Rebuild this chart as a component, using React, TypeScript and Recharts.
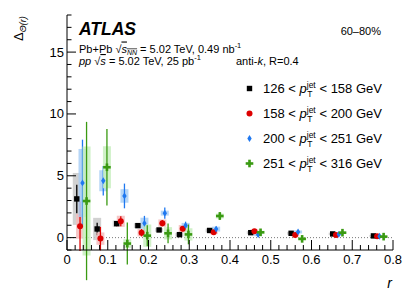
import React from 'react';
import { ScatterChart, Scatter, XAxis, YAxis, ErrorBar, ReferenceLine } from 'recharts';

// ---------- data ----------
const X_MAJOR = [0, 0.1, 0.2, 0.3, 0.4, 0.5, 0.6, 0.7, 0.8];
const X_LABELS = ['0', '0.1', '0.2', '0.3', '0.4', '0.5', '0.6', '0.7', '0.8'];
const Y_MAJOR = [0, 5, 10, 15];
const Y_LABELS = ['0', '5', '10', '15'];
const X_DOMAIN = [0, 0.8];
const Y_DOMAIN = [-1, 18];

const SERIES_NAMES = ['126', '158', '200', '251'];
const SERIES_HIGH = ['158', '200', '251', '316'];

const r126 = [0.024, 0.074, 0.122, 0.174, 0.226, 0.276, 0.35, 0.451, 0.55, 0.652, 0.752];
const v126 = [3.13, 0.7, 1.13, 0.97, 0.62, 0.24, 0.58, 0.4, 0.35, 0.3, 0.14];
const stat126 = [1.15, 0.5, 0.2, 0.15, 0.12, 0.12, 0.1, 0.08, 0.08, 0.06, 0.05];
const sys126 = [2.1, 0.9, 0.25, 0.2, 0.15, 0.15, 0.15, 0.12, 0.12, 0.1, 0.08];

const r158 = [0.032, 0.082, 0.132, 0.183, 0.234, 0.284, 0.36, 0.46, 0.56, 0.66, 0.761];
const v158 = [0.92, -0.08, 1.32, 0.4, 1.17, 0.72, 0.43, 0.52, 0.22, 0.22, 0.11];
const stat158 = [2.0, 0.95, 0.4, 0.3, 0.25, 0.2, 0.12, 0.1, 0.1, 0.08, 0.06];
const sys158 = [1.0, 0.5, 0.45, 0.3, 0.3, 0.3, 0.15, 0.15, 0.12, 0.1, 0.08];

const r200 = [0.038, 0.089, 0.141, 0.19, 0.24, 0.291, 0.366, 0.469, 0.567, 0.667, 0.767];
const v200 = [4.42, 4.6, 3.37, 1.16, 1.98, 0.99, 0.69, 0.24, 0.46, 0.27, 0.11];
const stat200 = [3.5, 1.2, 1.0, 0.6, 0.45, 0.3, 0.2, 0.15, 0.15, 0.1, 0.08];
const sys200 = [2.75, 0.85, 0.55, 0.45, 0.2, 0.2, 0.2, 0.12, 0.12, 0.1, 0.08];

const r251 = [0.048, 0.098, 0.148, 0.197, 0.248, 0.298, 0.375, 0.475, 0.577, 0.676, 0.777];
const v251 = [2.96, 5.69, -0.48, 0.16, 0.35, 0.26, 1.75, 0.43, -0.1, 0.4, 0.08];
const stat251 = [6.4, 3.1, 1.7, 0.85, 0.8, 0.8, 0.3, 0.15, 0.15, 0.12, 0.08];
const sys251 = [4.4, 1.7, 0.35, 0.9, 0.5, 0.5, 0.2, 0.12, 0.12, 0.1, 0.08];

// ---------- helpers ----------
const build = (xs: number[], ys: number[], st: number[], sy: number[]) =>
  xs.map((x, i) => ({ x, y: ys[i], stat: st[i], sys: sy[i] }));

const X_TICKS = Array.from({ length: 41 }, (_, i) => Math.round(i * 2) / 100);
const Y_TICKS = Array.from({ length: 20 }, (_, i) => i - 1);

const FONT = '"Liberation Sans", Arial, Helvetica, sans-serif';
const majorIndex = (v: number, arr: number[]) => arr.findIndex((m) => Math.abs(m - v) < 1e-6);

const BottomTick = (p: any) => {
  const { x, y, payload } = p;
  const idx = majorIndex(payload.value, X_MAJOR);
  const len = idx >= 0 ? 10 : 5;
  return (
    <g>
      <line x1={x} x2={x} y1={y} y2={y - len} stroke="#000" strokeWidth={1} />
      {idx >= 0 && (
        <text x={x} y={y + 14} textAnchor="middle" fontSize={13} fontFamily={FONT} fill="#000">
          {X_LABELS[idx]}
        </text>
      )}
    </g>
  );
};
const TopTick = (p: any) => {
  const { x, y, payload } = p;
  const idx = majorIndex(payload.value, X_MAJOR);
  const len = idx >= 0 ? 10 : 5;
  return <line x1={x} x2={x} y1={y} y2={y + len} stroke="#000" strokeWidth={1} />;
};
const LeftTick = (p: any) => {
  const { x, y, payload } = p;
  const idx = majorIndex(payload.value, Y_MAJOR);
  const len = idx >= 0 ? 9 : 4.5;
  return (
    <g>
      <line x1={x} x2={x + len} y1={y} y2={y} stroke="#000" strokeWidth={1} />
      {idx >= 0 && (
        <text x={x - 3} y={y + 4.5} textAnchor="end" fontSize={13} fontFamily={FONT} fill="#000">
          {Y_LABELS[idx]}
        </text>
      )}
    </g>
  );
};
const RightTick = (p: any) => {
  const { x, y, payload } = p;
  const idx = majorIndex(payload.value, Y_MAJOR);
  const len = idx >= 0 ? 9 : 4.5;
  return <line x1={x} x2={x - len} y1={y} y2={y} stroke="#000" strokeWidth={1} />;
};

const C_BLACK = '#000000';
const C_RED = '#dd0000';
const C_BLUE = '#1f78f0';
const C_GREEN = '#3a9a12';
const COLORS = [C_BLACK, C_RED, C_BLUE, C_GREEN];
const BOX = ['#c9c9c9', '#f5bcbc', '#a9cff6', '#c8efbe'];

const Square = ({ cx, cy, s = 5.4 }: any) => (
  <rect x={cx - s / 2} y={cy - s / 2} width={s} height={s} fill={C_BLACK} />
);
const Dot = ({ cx, cy, r = 3 }: any) => <circle cx={cx} cy={cy} r={r} fill={C_RED} />;
const Diamond = ({ cx, cy, w = 2.2, h = 3.4 }: any) => (
  <polygon points={`${cx},${cy - h} ${cx + w},${cy} ${cx},${cy + h} ${cx - w},${cy}`} fill={C_BLUE} />
);
const Cross = ({ cx, cy, a = 3.8, t = 1.3 }: any) => (
  <g fill={C_GREEN}>
    <rect x={cx - a} y={cy - t} width={2 * a} height={2 * t} />
    <rect x={cx - t} y={cy - a} width={2 * t} height={2 * a} />
  </g>
);
const SHAPES = [Square, Dot, Diamond, Cross];

const SERIES = [
  build(r126, v126, stat126, sys126),
  build(r158, v158, stat158, sys158),
  build(r200, v200, stat200, sys200),
  build(r251, v251, stat251, sys251),
];

const LegendRow = ({ i, y }: { i: number; y: number }) => {
  const Shape = SHAPES[i];
  return (
    <g>
      <Shape cx={249.5} cy={y - 4.5} />
      <text x={263} y={y} fontSize={13} fontFamily={FONT} fill="#000">
        {SERIES_NAMES[i] + ' < '}
        <tspan fontStyle="italic">p</tspan>
        <tspan fontSize={8.5} dy={-5.5}>jet</tspan>
        <tspan fontSize={8.5} dx={-8.5} dy={9}>T</tspan>
        <tspan dx={3.4} dy={-3.5}>{' < ' + SERIES_HIGH[i] + ' GeV'}</tspan>
      </text>
    </g>
  );
};

export default function App() {
  return (
    <div style={{ position: 'absolute', left: 0, top: 0, width: 415, height: 298, background: '#fff' }}>
      <ScatterChart width={415} height={298} margin={{ top: 15, right: 22, bottom: 18, left: 0 }}>
        <XAxis
          xAxisId="top"
          orientation="top"
          type="number"
          domain={X_DOMAIN}
          ticks={X_TICKS}
          interval={0}
          height={0}
          tickSize={0}
          tickMargin={0}
          tickLine={false}
          tick={<TopTick />}
          axisLine={{ stroke: '#000' }}
        />
        <XAxis
          dataKey="x"
          type="number"
          domain={X_DOMAIN}
          ticks={X_TICKS}
          interval={0}
          height={30}
          tickSize={0}
          tickMargin={0}
          tickLine={false}
          tick={<BottomTick />}
          axisLine={{ stroke: '#000' }}
          allowDataOverflow
        />
        <YAxis
          dataKey="y"
          type="number"
          domain={Y_DOMAIN}
          ticks={Y_TICKS}
          interval={0}
          width={67}
          tickSize={0}
          tickMargin={0}
          tickLine={false}
          tick={<LeftTick />}
          axisLine={{ stroke: '#000' }}
          allowDataOverflow
        />
        <YAxis
          yAxisId="right"
          orientation="right"
          type="number"
          domain={Y_DOMAIN}
          ticks={Y_TICKS}
          interval={0}
          width={0}
          tickSize={0}
          tickMargin={0}
          tickLine={false}
          tick={<RightTick />}
          axisLine={{ stroke: '#000' }}
        />
        <ReferenceLine y={0} stroke="#777" strokeDasharray="1 2" strokeWidth={1} />
        {SERIES.map((d, i) => {
          const Shape = SHAPES[i];
          return (
            <Scatter
              key={i}
              data={d}
              isAnimationActive={false}
              shape={(p: any) => <Shape cx={p.cx} cy={p.cy} />}
            >
              <ErrorBar dataKey="sys" direction="y" width={0} strokeWidth={8} stroke={BOX[i]} strokeOpacity={0.85} />
              <ErrorBar dataKey="stat" direction="y" width={0} strokeWidth={1.3} stroke={COLORS[i]} />
            </Scatter>
          );
        })}
      </ScatterChart>
      <svg
        width={415}
        height={298}
        style={{ position: 'absolute', left: 0, top: 0, pointerEvents: 'none' }}
        fontFamily={FONT}
      >
        <text x={79} y={35} fontSize={17.5} fontWeight="bold" fontStyle="italic" fill="#000">
          ATLAS
        </text>
        <text x={381} y={35} fontSize={11} textAnchor="end" fill="#000">
          60–80%
        </text>
        <text x={79} y={52.5} fontSize={11} fill="#000">
          {'Pb+Pb '}
          <tspan>√</tspan>
          <tspan fontStyle="italic" textDecoration="overline">s</tspan>
          <tspan fontStyle="italic" fontSize={7} dy={2} textDecoration="overline">NN</tspan>
          <tspan dy={-2}>{' = 5.02 TeV, 0.49 nb'}</tspan>
          <tspan fontSize={7.5} dy={-5}>-1</tspan>
        </text>
        <text x={79} y={65} fontSize={11} fill="#000">
          <tspan fontStyle="italic">pp</tspan>
          {'  √'}
          <tspan fontStyle="italic" textDecoration="overline">s</tspan>
          {' = 5.02 TeV, 25 pb'}
          <tspan fontSize={7.5} dy={-5}>-1</tspan>
        </text>
        <text x={236} y={65} fontSize={11} fill="#000">
          {'anti-'}
          <tspan fontStyle="italic">k</tspan>
          {', R=0.4'}
        </text>
        {[88.5 + 4.5, 113.5 + 4.5, 138.5 + 4.5, 163.5 + 4.5].map((y, i) => (
          <LegendRow key={i} i={i} y={y} />
        ))}
        <text x={392} y={288} fontSize={14} fontStyle="italic" textAnchor="end" fill="#000">
          r
        </text>
        <g transform="translate(23,41) rotate(-90)">
          <text x={0} y={0} fontSize={13} fill="#000">
            Δ
            <tspan fontSize={9} fontStyle="italic" dy={3}>Θ(r)</tspan>
          </text>
        </g>
      </svg>
    </div>
  );
}
